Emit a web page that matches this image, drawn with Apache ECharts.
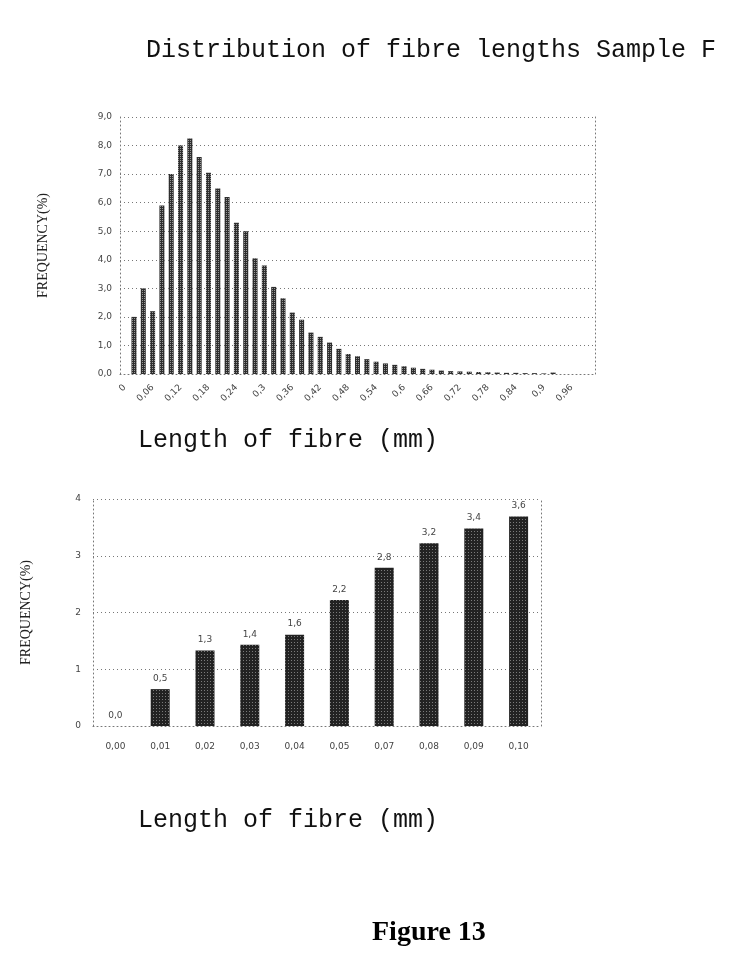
<!DOCTYPE html>
<html lang="en">
<head>
    <meta charset="UTF-8">
    <title>Distribution of fibre lengths Sample F</title>
    <script src="https://cdn.jsdelivr.net/npm/echarts@6/dist/echarts.min.js"></script>
</head>
<body style="margin:0;background:#fff">
<div id="main" style="width:740px;height:966px;"></div>
<script type="text/javascript">
    // upper chart: fibre length classes (mm) and frequency (%)
    var lengthsTop = [0, 0.02, 0.04, 0.06, 0.08, 0.10, 0.12, 0.14, 0.16, 0.18,
        0.20, 0.22, 0.24, 0.26, 0.28, 0.30, 0.32, 0.34, 0.36, 0.38,
        0.40, 0.42, 0.44, 0.46, 0.48, 0.50, 0.52, 0.54, 0.56, 0.58,
        0.60, 0.62, 0.64, 0.66, 0.68, 0.70, 0.72, 0.74, 0.76, 0.78,
        0.80, 0.82, 0.84, 0.86, 0.88, 0.90, 0.92, 0.94, 0.96, 0.98, 1.00];
    var freqTop = [0, 2.0, 3.0, 2.2, 5.9, 7.0, 8.0, 8.25, 7.6, 7.05,
        6.5, 6.2, 5.3, 5.0, 4.05, 3.8, 3.05, 2.65, 2.15, 1.9,
        1.45, 1.3, 1.1, 0.88, 0.7, 0.62, 0.52, 0.43, 0.37, 0.32,
        0.27, 0.22, 0.18, 0.15, 0.12, 0.1, 0.09, 0.08, 0.07, 0.06,
        0.05, 0.04, 0.04, 0.03, 0.03, 0.02, 0.05, 0, 0, 0, 0];

    // lower chart: short fibres
    var lengthsBottom = ['0,00', '0,01', '0,02', '0,03', '0,04', '0,05', '0,07', '0,08', '0,09', '0,10'];
    var freqBottom = [0, 0.65, 1.33, 1.43, 1.61, 2.22, 2.79, 3.22, 3.48, 3.69];
    var labelsBottom = ['0,0', '0,5', '1,3', '1,4', '1,6', '2,2', '2,8', '3,2', '3,4', '3,6'];

    var myChart = echarts.init(document.getElementById('main'));

    var dotted = {color: '#777', type: [1, 3], width: 1};
    var mono = 'Liberation Mono, Courier New, monospace';
    var serif = 'Liberation Serif, Times New Roman, serif';

    function comma(v, d) {
        return (+v).toFixed(d).replace('.', ',');
    }

    var option = {
        animation: false,
        backgroundColor: '#fff',
        title: [
            {text: 'Distribution of fibre lengths Sample F', left: 141, top: 33,
                textStyle: {fontFamily: mono, fontSize: 25, fontWeight: 'normal', color: '#111'}},
            {text: 'Length of fibre (mm)', left: 133, top: 423,
                textStyle: {fontFamily: mono, fontSize: 25, fontWeight: 'normal', color: '#111'}},
            {text: 'Length of fibre (mm)', left: 133, top: 803,
                textStyle: {fontFamily: mono, fontSize: 25, fontWeight: 'normal', color: '#111'}},
            {text: 'Figure 13', left: 367, top: 914,
                textStyle: {fontFamily: serif, fontSize: 28, fontWeight: 'bold', color: '#000'}}
        ],
        grid: [
            {left: 120, right: 145, top: 117, bottom: 592},
            {left: 93, right: 199, top: 499, bottom: 240}
        ],
        xAxis: [
            {
                type: 'category', gridIndex: 0, data: lengthsTop,
                axisLine: {lineStyle: dotted},
                axisTick: {show: false},
                axisLabel: {
                    interval: 2, rotate: 45, fontSize: 9, color: '#444', margin: 12,
                    fontFamily: 'DejaVu Sans',
                    formatter: function (v) { return v === '0' ? '0' : String(+v).replace('.', ','); }
                }
            },
            {
                type: 'category', gridIndex: 1, data: lengthsBottom,
                axisLine: {lineStyle: dotted},
                axisTick: {show: false},
                axisLabel: {fontSize: 9, color: '#444', margin: 16, fontFamily: 'DejaVu Sans'}
            }
        ],
        yAxis: [
            {
                type: 'value', gridIndex: 0, min: 0, max: 9, interval: 1,
                name: 'FREQUENCY(%)', nameLocation: 'middle', nameGap: 70, nameRotate: 90,
                nameTextStyle: {fontFamily: serif, fontSize: 14, color: '#222'},
                axisLine: {show: true, lineStyle: dotted},
                axisTick: {show: false},
                splitLine: {lineStyle: dotted},
                axisLabel: {fontSize: 9, color: '#444', margin: 8, fontFamily: 'DejaVu Sans',
                    formatter: function (v) { return comma(v, 1); }}
            },
            {
                type: 'value', gridIndex: 0, min: 0, max: 9, interval: 1, position: 'right',
                axisLine: {show: true, lineStyle: dotted},
                axisTick: {show: false}, axisLabel: {show: false}, splitLine: {show: false}
            },
            {
                type: 'value', gridIndex: 1, min: 0, max: 4, interval: 1,
                name: 'FREQUENCY(%)', nameLocation: 'middle', nameGap: 60, nameRotate: 90,
                nameTextStyle: {fontFamily: serif, fontSize: 14, color: '#222'},
                axisLine: {show: true, lineStyle: dotted},
                axisTick: {show: false},
                splitLine: {lineStyle: dotted},
                axisLabel: {fontSize: 9, color: '#444', margin: 12, fontFamily: 'DejaVu Sans'}
            },
            {
                type: 'value', gridIndex: 1, min: 0, max: 4, interval: 1, position: 'right',
                axisLine: {show: true, lineStyle: dotted},
                axisTick: {show: false}, axisLabel: {show: false}, splitLine: {show: false}
            }
        ],
        series: [
            {
                type: 'bar', xAxisIndex: 0, yAxisIndex: 0, data: freqTop,
                barWidth: 5,
                itemStyle: {
                    color: '#2e2e2e',
                    decal: {symbol: 'rect', symbolSize: 1, color: 'rgba(255,255,255,0.5)',
                        dashArrayX: [1, 1], dashArrayY: [1, 1]}
                }
            },
            {
                type: 'bar', xAxisIndex: 1, yAxisIndex: 2, data: freqBottom,
                barWidth: 19,
                itemStyle: {
                    color: '#222',
                    decal: {symbol: 'rect', symbolSize: 1, color: 'rgba(255,255,255,0.4)',
                        dashArrayX: [1, 2], dashArrayY: [1, 2]}
                },
                label: {
                    show: true, position: 'top', distance: 6, fontSize: 9, color: '#444',
                    fontFamily: 'DejaVu Sans',
                    formatter: function (p) { return labelsBottom[p.dataIndex]; }
                }
            }
        ]
    };

    myChart.setOption(option);
</script>
</body>
</html>
